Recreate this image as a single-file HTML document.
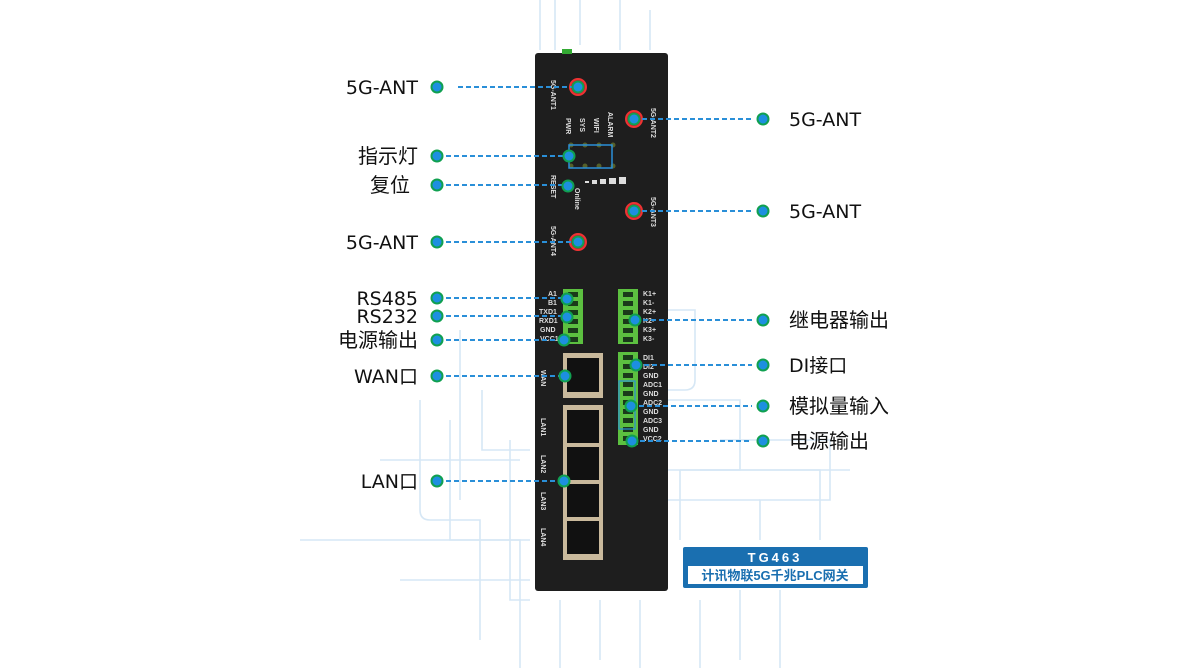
<!DOCTYPE html>
<html><head><meta charset="utf-8"><style>
html,body{margin:0;padding:0;background:#fff;width:1200px;height:668px;overflow:hidden}
svg{display:block}
.lb{font-family:"DejaVu Sans","Noto Sans CJK SC",sans-serif;font-size:19px;fill:#111}
.cj{font-family:"Noto Sans CJK SC",sans-serif;font-size:20px;fill:#111}
.sm{font-family:"Liberation Sans",sans-serif;font-size:7px;font-weight:bold;fill:#ddd}
</style></head><body>
<svg width="1200" height="668" viewBox="0 0 1200 668" xmlns="http://www.w3.org/2000/svg">
<g fill="none" stroke="#d6e7f5" stroke-width="1.6">
<path d="M420 400 V510 Q420 520 430 520 H480 V640"/>
<path d="M450 420 V540 H520 V668"/>
<path d="M380 460 H520"/>
<path d="M300 540 H530"/>
<path d="M400 580 H530"/>
<path d="M482 390 V450 H530"/>
<path d="M510 440 V600 H530"/>
<path d="M460 330 V500"/>
<path d="M560 600 V668"/><path d="M600 600 V660"/><path d="M640 600 V668"/>
<path d="M540 0 V50"/><path d="M555 0 V50"/><path d="M580 0 V45"/><path d="M620 0 V50"/><path d="M650 10 V50"/>
<path d="M668 310 H695 V380 Q695 390 685 390 H668"/>
<path d="M668 400 H740 V470 H680"/>
<path d="M680 470 V540"/><path d="M700 470 H820 V540"/>
<path d="M668 470 H850"/>
<path d="M720 440 H830 V500 H760 V540"/>
<path d="M700 600 V668"/><path d="M740 590 V660"/><path d="M780 590 V668"/>
<path d="M668 500 H760"/>
</g>
<rect x="535" y="53" width="133" height="538" rx="3" fill="#1e1e1e"/>
<rect x="562" y="49" width="10" height="5" fill="#3a3"/>
<g fill="#c8182a" stroke="#e33" stroke-width="2">
<circle cx="578" cy="87" r="8"/><circle cx="634" cy="119" r="8"/><circle cx="634" cy="211" r="8"/><circle cx="578" cy="242" r="8"/>
</g>
<g fill="#55602a"><circle cx="571" cy="145" r="2.5"/><circle cx="585" cy="145" r="2.5"/><circle cx="599" cy="145" r="2.5"/><circle cx="613" cy="145" r="2.5"/>
<circle cx="571" cy="166" r="2.5"/><circle cx="585" cy="166" r="2.5"/><circle cx="599" cy="166" r="2.5"/><circle cx="613" cy="166" r="2.5"/></g>
<rect x="569" y="145" width="43" height="23" fill="none" stroke="#2a8fd8" stroke-width="1.5"/>
<g fill="#ddd"><rect x="585" y="181" width="4" height="2"/><rect x="592" y="180" width="5" height="4"/><rect x="600" y="179" width="6" height="5"/><rect x="609" y="178" width="7" height="6"/><rect x="619" y="177" width="7" height="7"/></g>
<g class="sm">
<text transform="translate(551,80) rotate(90)">5G-ANT1</text>
<text transform="translate(651,108) rotate(90)">5G-ANT2</text>
<text transform="translate(651,197) rotate(90)">5G-ANT3</text>
<text transform="translate(551,226) rotate(90)">5G-ANT4</text>
<text transform="translate(566,118) rotate(90)">PWR</text>
<text transform="translate(580,118) rotate(90)">SYS</text>
<text transform="translate(594,118) rotate(90)">WIFI</text>
<text transform="translate(608,112) rotate(90)">ALARM</text>
<text transform="translate(551,175) rotate(90)">RESET</text>
<text transform="translate(575,188) rotate(90)">Online</text>
<text transform="translate(541,370) rotate(90)">WAN</text>
<text transform="translate(541,418) rotate(90)">LAN1</text>
<text transform="translate(541,455) rotate(90)">LAN2</text>
<text transform="translate(541,492) rotate(90)">LAN3</text>
<text transform="translate(541,528) rotate(90)">LAN4</text>
<text x="548" y="296">A1</text><text x="548" y="305">B1</text><text x="539" y="314">TXD1</text><text x="539" y="323">RXD1</text><text x="540" y="332">GND</text><text x="540" y="341">VCC1</text>
<text x="643" y="296">K1+</text><text x="643" y="305">K1-</text><text x="643" y="314">K2+</text><text x="643" y="323">K2-</text><text x="643" y="332">K3+</text><text x="643" y="341">K3-</text>
<text x="643" y="360">DI1</text><text x="643" y="369">DI2</text><text x="643" y="378">GND</text><text x="643" y="387">ADC1</text><text x="643" y="396">GND</text><text x="643" y="405">ADC2</text><text x="643" y="414">GND</text><text x="643" y="423">ADC3</text><text x="643" y="432">GND</text><text x="643" y="441">VCC2</text>
</g>
<rect x="563" y="289" width="20" height="55" fill="#5cc040"/>
<rect x="618" y="289" width="20" height="55" fill="#5cc040"/>
<rect x="618" y="352" width="20" height="93" fill="#5cc040"/>
<g fill="#1a3a1a">
<rect x="568" y="292" width="10" height="5"/><rect x="568" y="301" width="10" height="5"/><rect x="568" y="310" width="10" height="5"/><rect x="568" y="319" width="10" height="5"/><rect x="568" y="328" width="10" height="5"/><rect x="568" y="337" width="10" height="5"/>
<rect x="623" y="292" width="10" height="5"/><rect x="623" y="301" width="10" height="5"/><rect x="623" y="310" width="10" height="5"/><rect x="623" y="319" width="10" height="5"/><rect x="623" y="328" width="10" height="5"/><rect x="623" y="337" width="10" height="5"/>
<rect x="623" y="355" width="10" height="5"/><rect x="623" y="364" width="10" height="5"/><rect x="623" y="373" width="10" height="5"/><rect x="623" y="382" width="10" height="5"/><rect x="623" y="391" width="10" height="5"/><rect x="623" y="400" width="10" height="5"/><rect x="623" y="409" width="10" height="5"/><rect x="623" y="418" width="10" height="5"/><rect x="623" y="427" width="10" height="5"/><rect x="623" y="436" width="10" height="5"/>
</g>
<rect x="619" y="381" width="16" height="48" fill="none" stroke="#2a8fd8" stroke-width="1.2"/>
<rect x="563" y="353" width="40" height="45" fill="#c9b99c"/>
<rect x="567" y="358" width="32" height="34" fill="#111"/>
<rect x="563" y="405" width="40" height="155" fill="#c9b99c"/>
<g fill="#111"><rect x="567" y="410" width="32" height="33"/><rect x="567" y="447" width="32" height="33"/><rect x="567" y="484" width="32" height="33"/><rect x="567" y="521" width="32" height="33"/></g>
<g stroke="#2a8fd8" stroke-width="2" stroke-dasharray="5,3" fill="none">
<path d="M458 87 H578"/><path d="M634 119 H752"/><path d="M446 156 H569"/><path d="M446 185 H568"/><path d="M634 211 H752"/><path d="M446 242 H578"/>
<path d="M446 298 H567"/><path d="M446 316 H567"/><path d="M446 340 H564"/><path d="M446 376 H565"/><path d="M446 481 H564"/>
<path d="M635 320 H752"/><path d="M636 365 H752"/><path d="M631 406 H752"/><path d="M632 441 H752"/>
</g>
<g fill="#1d8fe0" stroke="#10a050" stroke-width="2">
<circle cx="437" cy="87" r="5.5"/><circle cx="437" cy="156" r="5.5"/><circle cx="437" cy="185" r="5.5"/><circle cx="437" cy="242" r="5.5"/><circle cx="437" cy="298" r="5.5"/><circle cx="437" cy="316" r="5.5"/><circle cx="437" cy="340" r="5.5"/><circle cx="437" cy="376" r="5.5"/><circle cx="437" cy="481" r="5.5"/>
<circle cx="763" cy="119" r="5.5"/><circle cx="763" cy="211" r="5.5"/><circle cx="763" cy="320" r="5.5"/><circle cx="763" cy="365" r="5.5"/><circle cx="763" cy="406" r="5.5"/><circle cx="763" cy="441" r="5.5"/>
<circle cx="578" cy="87" r="5.5"/><circle cx="634" cy="119" r="5.5"/><circle cx="569" cy="156" r="5.5"/><circle cx="568" cy="186" r="5.5"/><circle cx="634" cy="211" r="5.5"/><circle cx="578" cy="242" r="5.5"/>
<circle cx="567" cy="299" r="5.5"/><circle cx="567" cy="317" r="5.5"/><circle cx="564" cy="340" r="5.5"/><circle cx="565" cy="376" r="5.5"/><circle cx="564" cy="481" r="5.5"/>
<circle cx="635" cy="320" r="5.5"/><circle cx="636" cy="365" r="5.5"/><circle cx="631" cy="406" r="5.5"/><circle cx="632" cy="441" r="5.5"/>
</g>
<g text-anchor="end">
<text class="lb" x="418" y="94">5G-ANT</text><text class="cj" x="418" y="163">指示灯</text><text class="cj" x="410" y="192">复位</text><text class="lb" x="418" y="249">5G-ANT</text>
<text class="lb" x="418" y="305">RS485</text><text class="lb" x="418" y="323">RS232</text><text class="cj" x="418" y="347">电源输出</text><text class="lb" x="418" y="383">WAN口</text><text class="lb" x="418" y="488">LAN口</text>
</g>
<g>
<text class="lb" x="789" y="126">5G-ANT</text><text class="lb" x="789" y="218">5G-ANT</text><text class="cj" x="789" y="327">继电器输出</text><text class="lb" x="789" y="372">DI接口</text><text class="cj" x="789" y="413">模拟量输入</text><text class="cj" x="789" y="448">电源输出</text>
</g>
<rect x="683" y="547" width="185" height="41" rx="2" fill="#1a6fb0"/>
<rect x="688" y="566" width="175" height="18" fill="#fff"/>
<text x="775" y="562" text-anchor="middle" font-family="Liberation Sans,sans-serif" font-weight="bold" font-size="13" letter-spacing="3" fill="#fff">TG463</text>
<text x="775" y="580" text-anchor="middle" font-family="Liberation Sans,Noto Sans CJK SC,sans-serif" font-weight="bold" font-size="13" fill="#1a6fb0">计讯物联5G千兆PLC网关</text>
</svg>
</body></html>
